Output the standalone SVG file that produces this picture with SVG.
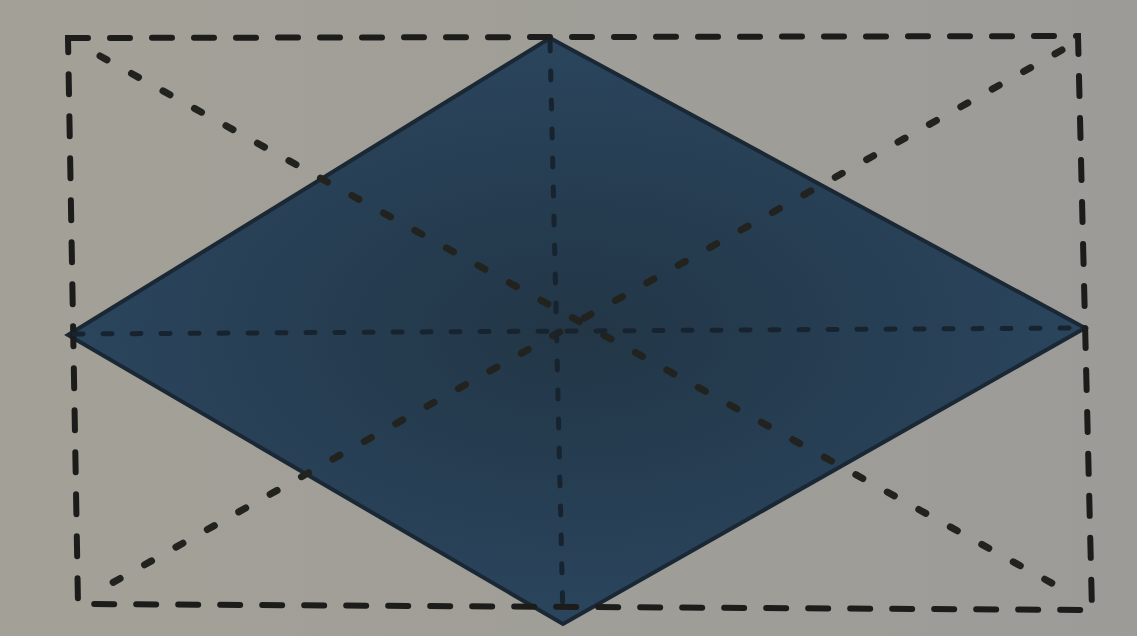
<svg xmlns="http://www.w3.org/2000/svg" width="1137" height="636" viewBox="0 0 1137 636">
<defs>
<linearGradient id="bg" x1="0" y1="0" x2="1" y2="0">
<stop offset="0" stop-color="#a3a197"/>
<stop offset="1" stop-color="#9c9b98"/>
</linearGradient>
<radialGradient id="fill" cx="0.5" cy="0.5" r="0.6">
<stop offset="0" stop-color="#223646"/>
<stop offset="1" stop-color="#2c4862"/>
</radialGradient>
<style>
.edge{fill:none;stroke:#1c1c1a;stroke-width:6;stroke-dasharray:20 22;stroke-linecap:round}
.diag{fill:none;stroke:#22221f;stroke-width:7;stroke-dasharray:8 28;stroke-linecap:round}
.inner{fill:none;stroke:#17242f;stroke-width:5;stroke-dasharray:9 20;stroke-linecap:round}
</style>
</defs>
<rect width="1137" height="636" fill="url(#bg)"/>
<g id="rhombus">
<polygon points="550,38 1085,328 563,624 68,335" fill="url(#fill)" stroke="#1a2835" stroke-width="4"/>
</g>
<g id="connectors">
<path class="edge" d="M68,38 L1078,36 L1092,610 L78,604 Z"/>
<path class="diag" d="M100,56 L1075,596"/>
<path class="diag" d="M1062,50 L96,592"/>
<path class="inner" d="M550,42 L563,620"/>
<path class="inner" d="M74,334 L1080,328"/>
</g>
</svg>
